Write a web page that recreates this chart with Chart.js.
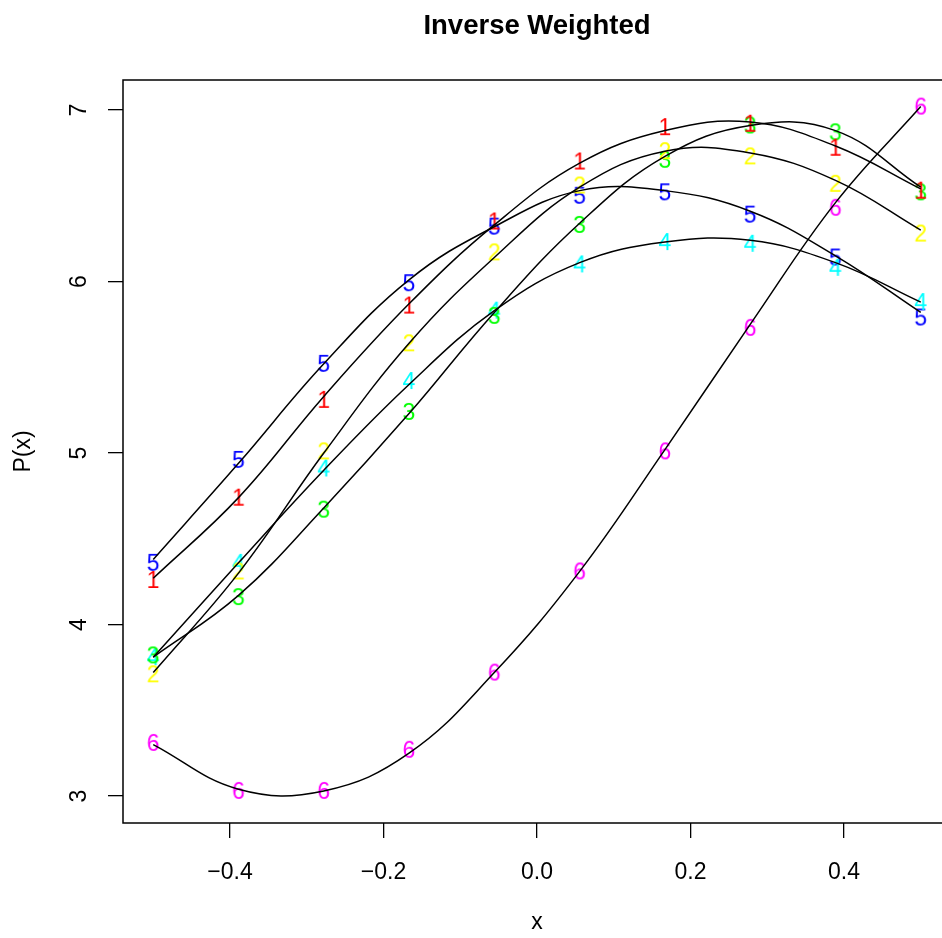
<!DOCTYPE html>
<html>
<head>
<meta charset="utf-8">
<script src="https://cdn.jsdelivr.net/npm/chart.js@4"></script>
<style>
  html, body { margin: 0; padding: 0; overflow: hidden; background: #fff; }
  #wrap { width: 942px; height: 938px; overflow: hidden; }
</style>
</head>
<body>
<div id="wrap"><canvas id="chart" width="980" height="938"></canvas></div>
<script>
// x positions of the observations
const xs = [-0.5, -0.3889, -0.2778, -0.1667, -0.0556, 0.0556, 0.1667, 0.2778, 0.3889, 0.5];

// observed values (labels 1..6)
const s1 = [4.26, 4.74, 5.31, 5.86, 6.35, 6.70, 6.90, 6.92, 6.78, 6.53];
const s2 = [3.71, 4.31, 5.01, 5.64, 6.17, 6.56, 6.76, 6.73, 6.57, 6.28];
const s3 = [3.82, 4.16, 4.67, 5.24, 5.80, 6.33, 6.71, 6.91, 6.87, 6.52];
const s4 = [3.81, 4.36, 4.91, 5.42, 5.83, 6.10, 6.23, 6.22, 6.08, 5.88];
const s5 = [4.36, 4.96, 5.52, 5.99, 6.32, 6.50, 6.52, 6.39, 6.14, 5.79];
const s6 = [3.31, 3.03, 3.03, 3.27, 3.72, 4.31, 5.01, 5.73, 6.43, 7.02];

// fitted curves read at the same x positions
const f1 = [4.27, 4.74, 5.33, 5.87, 6.33, 6.69, 6.88, 6.93, 6.79, 6.54];
const f2 = [3.72, 4.30, 5.00, 5.64, 6.14, 6.55, 6.76, 6.75, 6.59, 6.30];
const f3 = [3.81, 4.17, 4.68, 5.23, 5.82, 6.34, 6.73, 6.91, 6.88, 6.55];
const f4 = [3.81, 4.36, 4.90, 5.40, 5.83, 6.11, 6.23, 6.24, 6.11, 5.88];
const f5 = [4.38, 4.94, 5.52, 6.01, 6.32, 6.53, 6.53, 6.41, 6.15, 5.82];
const f6 = [3.30, 3.04, 3.03, 3.25, 3.72, 4.31, 5.02, 5.75, 6.46, 7.02];

const seriesLabels = ["1", "2", "3", "4", "5", "6"];
const seriesColors = ["#FF0000", "#FFFF00", "#00FF00", "#00FFFF", "#0000FF", "#FF00FF"];
const observed = [s1, s2, s3, s4, s5, s6];
const fitted = [f1, f2, f3, f4, f5, f6];

const xTicks = [-0.4, -0.2, 0, 0.2, 0.4];
const yTicks = [3, 4, 5, 6, 7];

const titleText = "Inverse Weighted";
const FONT = "'Liberation Sans', Arial, Helvetica, sans-serif";

// digit glyph used as the point marker
function digitMarker(txt, color) {
    const c = document.createElement("canvas");
    c.width = 24; c.height = 28;
    const g = c.getContext("2d");
    g.font = "23px " + FONT;
    g.fillStyle = color;
    g.textAlign = "center";
    g.textBaseline = "alphabetic";
    g.fillText(txt, 12, 14 + 8.2);
    return c;
}

const toXY = arr => arr.map((v, i) => ({ x: xs[i], y: v }));

const datasets = [];
fitted.forEach((f, i) => {
    datasets.push({
        label: "fit " + seriesLabels[i],
        data: toXY(f),
        showLine: true,
        borderColor: "#000",
        borderWidth: 1.5,
        pointRadius: 0,
        tension: 0.4,
        fill: false
    });
});
observed.forEach((s, i) => {
    datasets.push({
        label: seriesLabels[i],
        data: toXY(s),
        showLine: false,
        pointStyle: digitMarker(seriesLabels[i], seriesColors[i]),
        pointRadius: 12
    });
});

// R style box round the plot region, and the main title centred over it
const boxPlugin = {
    id: "box",
    afterDraw(chart) {
        const a = chart.chartArea;
        const ctx = chart.ctx;
        ctx.save();
        ctx.strokeStyle = "#000";
        ctx.lineWidth = 1.5;
        ctx.strokeRect(a.left, a.top, a.right - a.left, a.bottom - a.top);
        ctx.fillStyle = "#000";
        ctx.font = "bold 27.5px " + FONT;
        ctx.textAlign = "center";
        ctx.textBaseline = "middle";
        ctx.fillText(titleText, (a.left + a.right) / 2, 26);
        ctx.restore();
    }
};

new Chart(document.getElementById("chart"), {
    type: "scatter",
    data: { datasets },
    options: {
        responsive: false,
        animation: false,
        layout: { padding: { left: 0, right: 29, top: 80, bottom: 0 } },
        plugins: {
            legend: { display: false },
            tooltip: { enabled: false },
            title: { display: false }
        },
        scales: {
            x: {
                type: "linear",
                min: -0.5394,
                max: 0.5394,
                afterBuildTicks: s => { s.ticks = xTicks.map(v => ({ value: v })); },
                afterFit: s => { s.height = 115; },
                border: { display: false },
                grid: { display: true, drawOnChartArea: false, drawTicks: true, tickLength: 15, color: "#000", lineWidth: 1.3 },
                ticks: {
                    color: "#000",
                    font: { family: FONT, size: 23 },
                    padding: 21,
                    maxRotation: 0,
                    callback: v => (v < 0 ? "\u2212" : "") + Math.abs(v).toFixed(1)
                },
                title: {
                    display: true,
                    text: "x",
                    color: "#000",
                    font: { family: FONT, size: 23 },
                    padding: { top: 0, bottom: 2 }
                }
            },
            y: {
                type: "linear",
                min: 2.843,
                max: 7.175,
                afterBuildTicks: s => { s.ticks = yTicks.map(v => ({ value: v })); },
                afterFit: s => { s.width = 123; },
                border: { display: false },
                grid: { display: true, drawOnChartArea: false, drawTicks: true, tickLength: 15, color: "#000", lineWidth: 1.3 },
                ticks: {
                    color: "#000",
                    font: { family: FONT, size: 23 },
                    padding: 22,
                    minRotation: 90,
                    maxRotation: 90,
                    crossAlign: "center",
                    callback: v => String(v)
                },
                title: {
                    display: true,
                    text: "P(x)",
                    color: "#000",
                    font: { family: FONT, size: 23 },
                    padding: { top: 10, bottom: 0 }
                }
            }
        }
    },
    plugins: [boxPlugin]
});
</script>
</body>
</html>
